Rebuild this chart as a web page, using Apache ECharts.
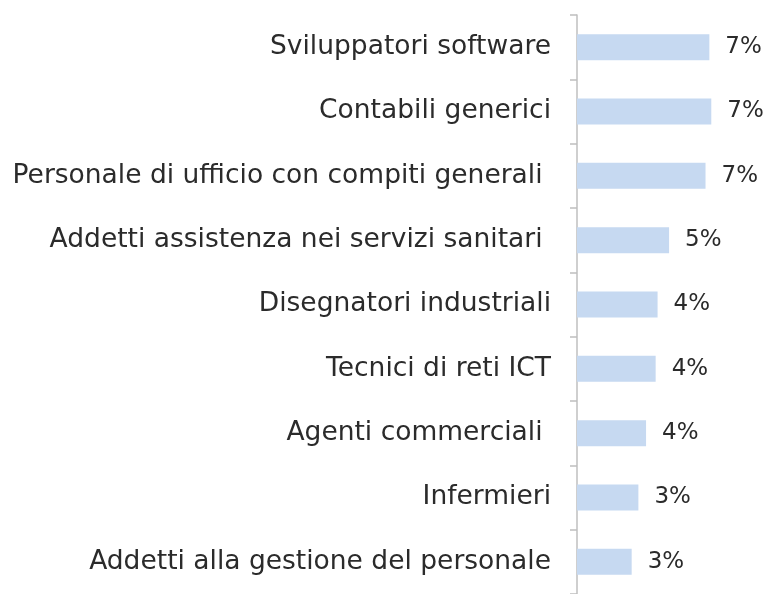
<!DOCTYPE html>
<html>
<head>
<meta charset="utf-8">
<script src="https://cdn.jsdelivr.net/npm/echarts@6/dist/echarts.min.js"></script>
<style>
  html, body { margin: 0; padding: 0; background: #fff; }
  #chart { width: 765px; height: 594px; }
</style>
</head>
<body>
<div id="chart"></div>
<script>
// categorie (dall'alto verso il basso)
var categories = [
  'Sviluppatori software',
  'Contabili generici',
  'Personale di ufficio con compiti generali ',
  'Addetti assistenza nei servizi sanitari ',
  'Disegnatori industriali',
  'Tecnici di reti ICT',
  'Agenti commerciali ',
  'Infermieri',
  'Addetti alla gestione del personale'
];
// quote in %
var values = [6.9, 7.0, 6.7, 4.8, 4.2, 4.1, 3.6, 3.2, 2.85];

var chart = echarts.init(document.getElementById('chart'));

var option = {
  backgroundColor: '#fff',
  animation: false,
  grid: {
    left: 577,
    top: 15,
    width: 190,
    height: 585
  },
  xAxis: {
    type: 'value',
    min: 0,
    max: 9.8,
    show: false
  },
  yAxis: {
    type: 'category',
    data: categories,
    inverse: true,
    axisLine: {
      show: true,
      lineStyle: { color: '#bfbfbf', width: 1.5 }
    },
    axisTick: {
      show: true,
      length: 7,
      lineStyle: { color: '#bfbfbf', width: 1.5 }
    },
    axisLabel: {
      margin: 26,
      color: '#2b2b2b',
      fontFamily: 'DejaVu Sans',
      fontSize: 26.5
    }
  },
  series: [{
    type: 'bar',
    data: values,
    barWidth: 26,
    itemStyle: { color: '#c6d9f1' },
    label: {
      show: true,
      position: 'right',
      distance: 16,
      color: '#2b2b2b',
      fontFamily: 'DejaVu Sans',
      fontSize: 23,
      formatter: function (p) {
        return Math.round(p.value) + '%';
      }
    }
  }]
};

chart.setOption(option);
</script>
</body>
</html>
